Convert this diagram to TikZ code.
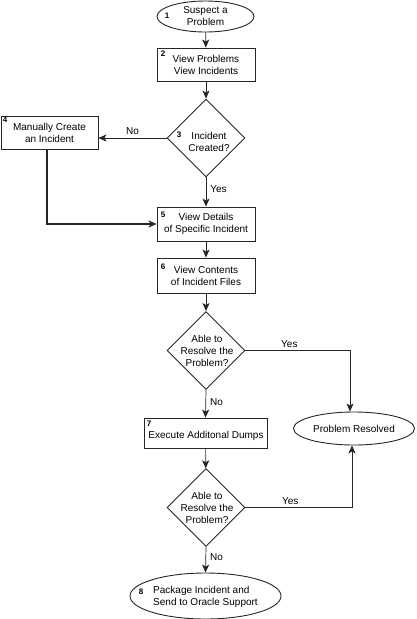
\documentclass[tikz,border=0pt]{standalone}
\usepackage{fontspec}
\setmainfont{Liberation Sans}
\usetikzlibrary{shapes.geometric,arrows.meta}
\begin{document}
\begin{tikzpicture}[x=1pt,y=-1pt,
  txt/.style={font=\fontsize{10}{12}\selectfont},
  box/.style={draw=black!85, line width=0.9pt, rectangle, inner sep=0pt, align=center, txt},
  oval/.style={draw=black!85, line width=0.9pt, ellipse, inner sep=0pt, align=center, txt},
  dia/.style={draw=black!85, line width=0.9pt, diamond, minimum width=78pt, minimum height=78pt, inner sep=0pt},
  num/.style={font=\fontsize{8}{9}\selectfont\bfseries, inner sep=0pt},
  lbl/.style={txt, inner sep=0pt},
  arr/.style={draw=black!85, line width=0.7pt, -{Stealth[length=8pt,width=7pt,inset=2pt]}},
  thick arr/.style={arr, line width=1.1pt}]
\useasboundingbox (0,0) rectangle (416,619);

% nodes
\node[oval, minimum width=97pt, minimum height=31pt] (n1) at (205.5,16.5) {Suspect a\\Problem};
\node[num] (k1) at (167,16) {1};

\node[box, minimum width=98pt, minimum height=33pt] (n2) at (206,64.5) {View Problems\\View Incidents};
\node[num] (k2) at (163,54) {2};

\node[dia] (n3) at (206,138) {};
\node[lbl, align=center] (t3) at (209,142) {Incident\\Created?};
\node[num] (k3) at (179,135) {3};

\node[box, minimum width=97pt, minimum height=33pt] (n4) at (49.5,132.5) {Manually Create\\an Incident};
\node[num] (k4) at (5,120) {4};

\node[box, minimum width=98pt, minimum height=34pt] (n5) at (206,224) {View Details\\of Specific Incident};
\node[num] (k5) at (163,215) {5};

\node[box, minimum width=98pt, minimum height=35pt] (n6) at (206,275.5) {View Contents\\of Incident Files};
\node[num] (k6) at (163,267) {6};

\node[dia] (d1) at (206,350.5) {};
\node[lbl, align=center] (t1) at (207,351) {Able to\\Resolve the\\Problem?};

\node[oval, minimum width=121pt, minimum height=33pt] (pr) at (354,428.5) {Problem Resolved};

\node[box, minimum width=123pt, minimum height=30pt] (n7) at (205.5,433) {};
\node[lbl] (t7) at (206,435.5) {Execute Additonal Dumps};
\node[num] (k7) at (149,424) {7};

\node[dia] (d2) at (206,507.5) {};
\node[lbl, align=center] (t2) at (207,508) {Able to\\Resolve the\\Problem?};

\node[oval, minimum width=151pt, minimum height=46pt] (n8) at (205.5,596) {};
\node[lbl, align=left] (t8) at (205.5,597) {Package Incident and\\Send to Oracle Support};
\node[num] (k8) at (141,592) {8};

% connectors
\draw[arr] (n1) -- (n2);
\draw[arr] (n2) -- (n3);
\draw[arr] (n3.west) -- (n3.west -| n4.east) node[lbl, midway, above=3pt] (no1) {No};
\draw[arr] (n3.south) -- (n5.north) node[lbl, pos=0.4, right=4pt] (yes1) {Yes};
\draw[thick arr] ([xshift=-2.5pt]n4.south) |- (n5.west);
\draw[arr] (n5) -- (n6);
\draw[arr] (n6) -- (d1);
\draw[arr] (d1.east) -| ([xshift=-4pt]pr.north) node[lbl, pos=0.21, above=3pt] (yes2) {Yes};
\draw[arr] (d1.south) -- (n7.north) node[lbl, pos=0.45, right=4pt] (no2) {No};
\draw[arr] (n7) -- (d2);
\draw[arr] (d2.east) -| ([xshift=-2pt]pr.south) node[lbl, pos=0.21, above=3pt] (yes3) {Yes};
\draw[arr] (d2.south) -- (n8.north) node[lbl, pos=0.4, right=4pt] (no3) {No};
\end{tikzpicture}
\end{document}
